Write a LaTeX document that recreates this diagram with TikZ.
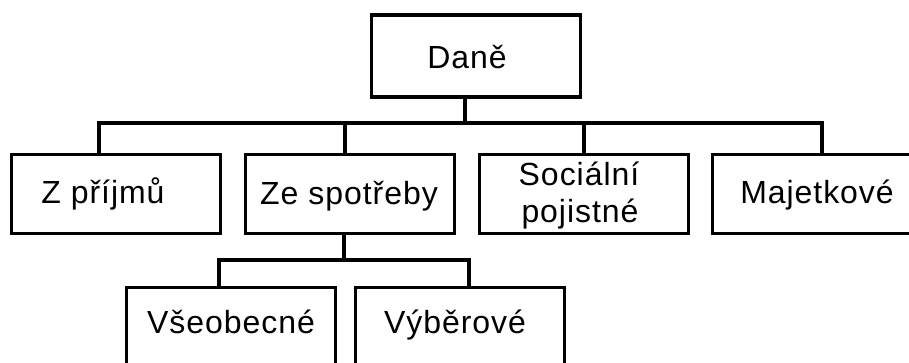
\documentclass[tikz,border=0pt]{standalone}
\usepackage{fontspec}
\setmainfont[LetterSpace=3]{Liberation Sans}
\begin{document}
\begin{tikzpicture}[x=1pt,y=-1pt,line width=3.5pt,
  box/.style={draw, rectangle, minimum width=209pt, minimum height=79pt, inner sep=0pt},
  topbox/.style={box, minimum height=82pt},
  txt/.style={font=\fontsize{32}{37}\selectfont, inner sep=0pt, anchor=base},
  conn/.style={draw, line width=3.5pt, line join=miter}]
\useasboundingbox (0,0) rectangle (909,362);
\clip (0,0) rectangle (909,362);
\fill[white] (0,0) rectangle (909,362);
% boxes
\node[topbox] (dane) at (476,56) {};
\node[box] (b1) at (116,194) {};
\node[box] (b2) at (350,194) {};
\node[box] (b3) at (584,194) {};
\node[box] (b4) at (817,194) {};
\node[box] (b5) at (231,327) {};
\node[box] (b6) at (460,327) {};
% texts
\node[txt] (tdane) at (467,68) {Daně};
\node[txt] (t1) at (103,203) {Z příjmů};
\node[txt] (t2) at (349,204) {Ze spotřeby};
\node[txt] (t3a) at (579,185) {Sociální};
\node[txt] (t3b) at (580,222) {pojistné};
\node[txt] (t4) at (817,203) {Majetkové};
\node[txt] (t5) at (231,333) {Všeobecné};
\node[txt] (t6) at (455,333) {Výběrové};
% junction coordinates
\coordinate (j0) at (465,123);
\coordinate (d1) at (99,123);
\coordinate (d2) at (345,123);
\coordinate (d3) at (584,123);
\coordinate (d4) at (822,123);
\coordinate (j1) at (344,260);
\coordinate (e5) at (219,260);
\coordinate (e6) at (469,260);
% connectors
\draw[conn] (dane.south -| j0) -- (j0);
\draw[conn] (b1.north -| d1) -- (d1) -- (d4) -- (b4.north -| d4);
\draw[conn] (d2) -- (b2.north -| d2);
\draw[conn] (d3) -- (b3.north -| d3);
\draw[conn] (b2.south -| j1) -- (j1);
\draw[conn] (b5.north -| e5) -- (e5) -- (e6) -- (b6.north -| e6);
\end{tikzpicture}
\end{document}
